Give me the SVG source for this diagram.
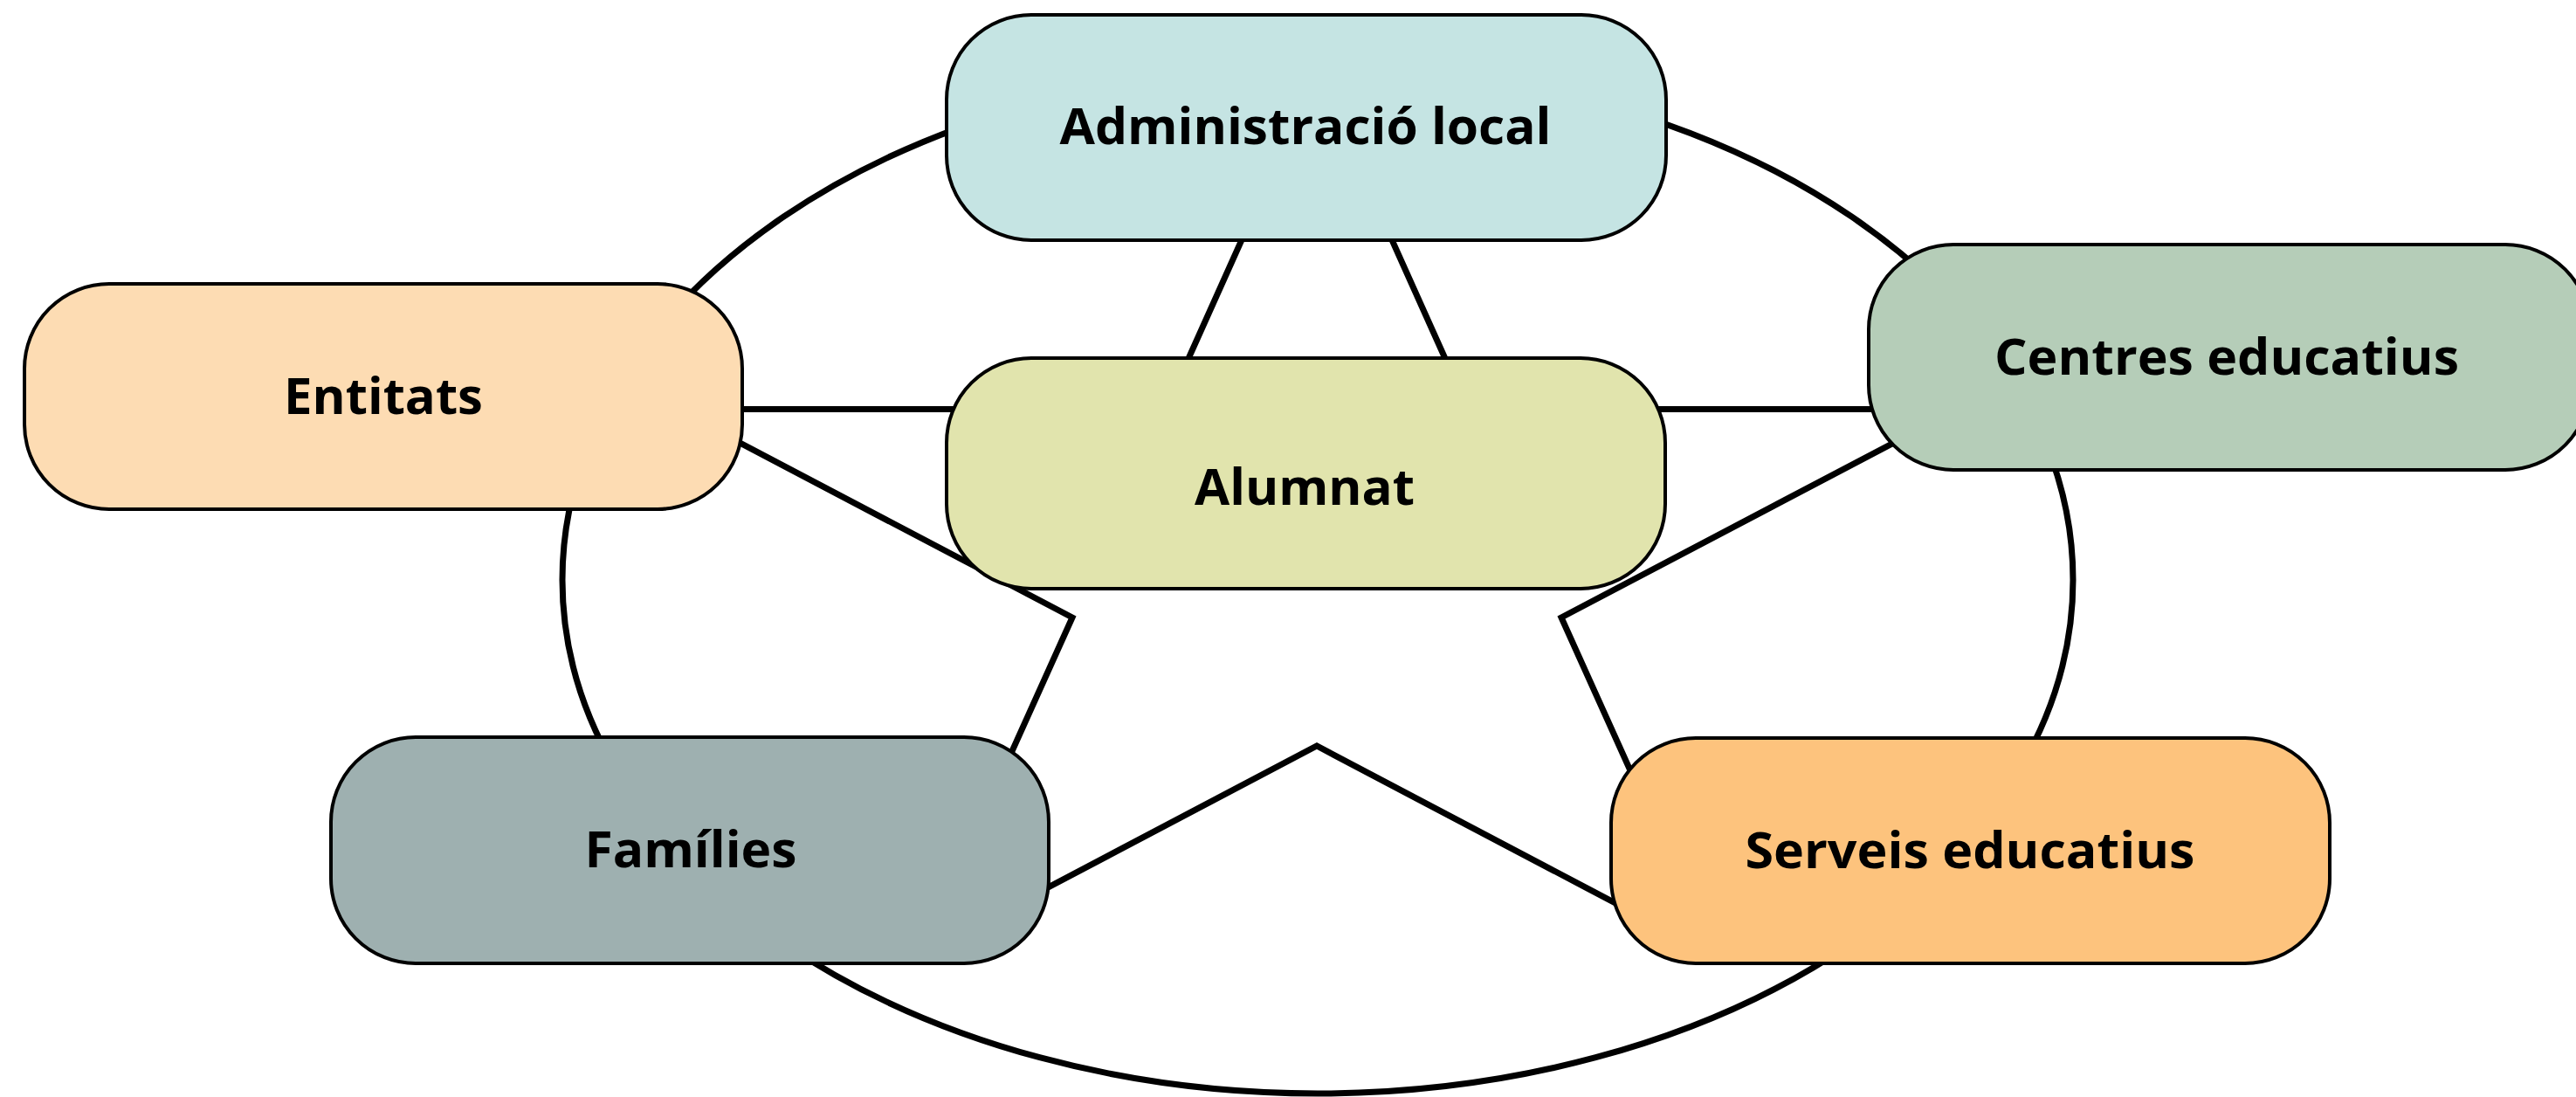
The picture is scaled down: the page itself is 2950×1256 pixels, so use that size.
<svg xmlns="http://www.w3.org/2000/svg" width="2950" height="1256" viewBox="0 0 2950 1256">
<style>
.node rect{stroke:#000;stroke-width:4}
.node text{font-family:"Open Sans","Liberation Sans",sans-serif;font-weight:700;font-size:58px;fill:#000;text-anchor:middle}
.conn{fill:none;stroke:#000;stroke-width:7;stroke-linejoin:miter;stroke-miterlimit:10}
</style>
<rect width="2950" height="1256" fill="#fff"/>
<g id="connectors">
<ellipse class="conn" cx="1509" cy="664" rx="865" ry="588" stroke-width="8"/>
<polygon class="conn" points="1508,83 1681,468.5 2242,468.5 1788,707 1962,1093 1508,854 1054,1093 1228,707 774,468.5 1335,468.5"/>
</g>
<g id="admin" class="node">
<rect x="1084" y="17" width="824" height="258" rx="97" fill="#c5e4e3"/>
<text x="1495" y="165" textLength="563" lengthAdjust="spacingAndGlyphs">Administració local</text>
</g>
<g id="entitats" class="node">
<rect x="28" y="325" width="822" height="258" rx="97" fill="#fddcb3"/>
<text x="439" y="474" textLength="228" lengthAdjust="spacingAndGlyphs">Entitats</text>
</g>
<g id="alumnat" class="node">
<rect x="1084" y="410" width="823" height="264" rx="97" fill="#e1e4ad"/>
<text x="1494" y="578" textLength="252" lengthAdjust="spacingAndGlyphs">Alumnat</text>
</g>
<g id="centres" class="node">
<rect x="2140" y="280" width="826" height="258" rx="97" fill="#b5cdb8"/>
<text x="2550" y="429" textLength="532" lengthAdjust="spacingAndGlyphs">Centres educatius</text>
</g>
<g id="families" class="node">
<rect x="379" y="844" width="822" height="259" rx="97" fill="#9eb0b0"/>
<text x="791" y="993" textLength="243" lengthAdjust="spacingAndGlyphs">Famílies</text>
</g>
<g id="serveis" class="node">
<rect x="1845" y="845" width="823" height="258" rx="97" fill="#fdc37d"/>
<text x="2256" y="994" textLength="515" lengthAdjust="spacingAndGlyphs">Serveis educatius</text>
</g>
</svg>
